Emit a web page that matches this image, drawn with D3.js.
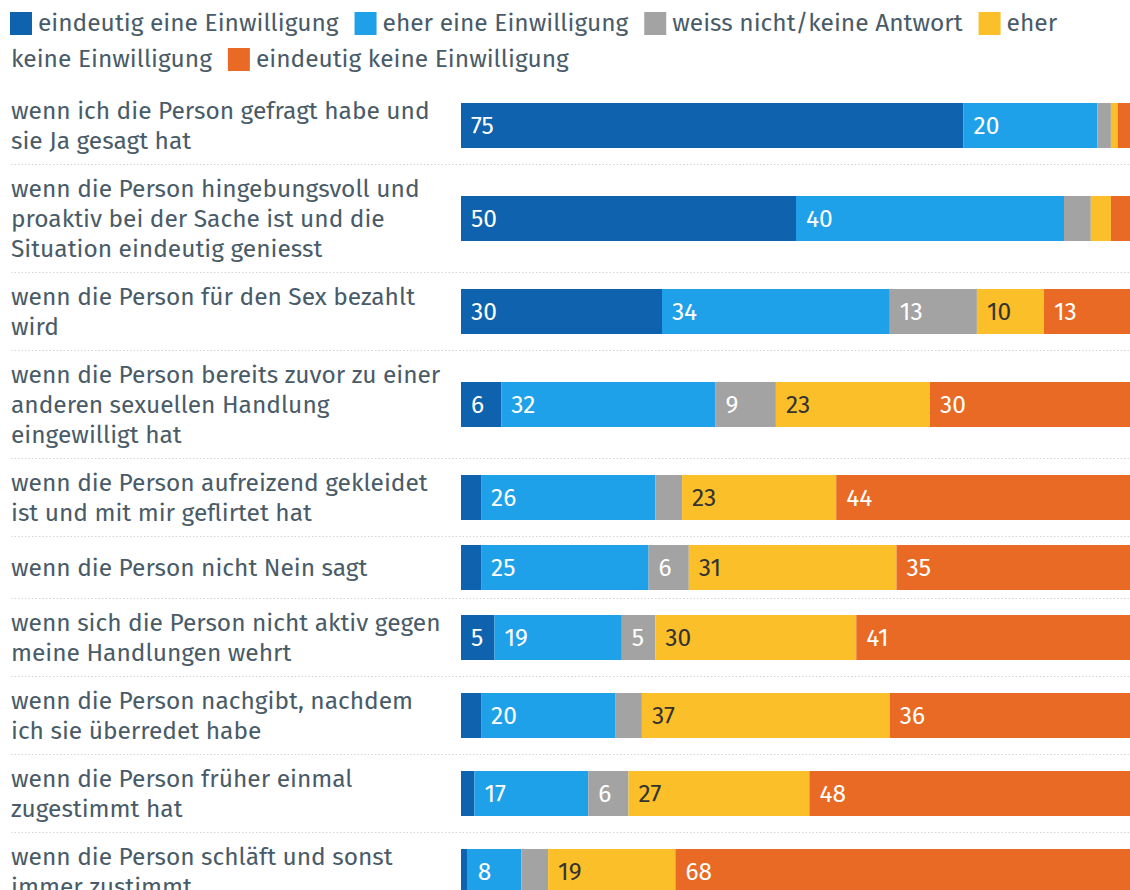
<!DOCTYPE html>
<html>
<head>
<meta charset="utf-8">
<script src="https://cdn.jsdelivr.net/npm/d3@7"></script>
<style>
  body { margin: 0; background: #fff; }
  svg { display: block; font-family: "Fira Sans", "Noto Sans", sans-serif; }
</style>
</head>
<body>
<div id="chart"></div>
<script>
const WIDTH = 1130
const HEIGHT = 890

const FONT_SIZE = 24.5
const TEXT_COLOR = '#4a5b68'
const LINE_HEIGHT = 30
const BAR_HEIGHT = 45
const ROW_MIN = 44
const ROW_PAD = 18

// Rows, with the line breaks as they appear in the reference
const categories = [
    'wenn ich die Person gefragt habe und\nsie Ja gesagt hat',
    'wenn die Person hingebungsvoll und\nproaktiv bei der Sache ist und die\nSituation eindeutig geniesst',
    'wenn die Person für den Sex bezahlt\nwird',
    'wenn die Person bereits zuvor zu einer\nanderen sexuellen Handlung\neingewilligt hat',
    'wenn die Person aufreizend gekleidet\nist und mit mir geflirtet hat',
    'wenn die Person nicht Nein sagt',
    'wenn sich die Person nicht aktiv gegen\nmeine Handlungen wehrt',
    'wenn die Person nachgibt, nachdem\nich sie überredet habe',
    'wenn die Person früher einmal\nzugestimmt hat',
    'wenn die Person schläft und sonst\nimmer zustimmt'
]

const seriesNames = [
    'eindeutig eine Einwilligung',
    'eher eine Einwilligung',
    'weiss nicht/keine Antwort',
    'eher keine Einwilligung',
    'eindeutig keine Einwilligung'
]
const seriesColors = ['#0e62ae', '#1fa1e9', '#a3a3a3', '#fbbf29', '#e96a24']
const labelColors = ['#fff', '#fff', '#fff', '#333', '#fff']

// Percent values per answer, one entry per row
const eindeutigEine = [75, 50, 30, 6, 3, 3, 5, 3, 2, 1]
const eherEine = [20, 40, 34, 32, 26, 25, 19, 20, 17, 8]
const weissNicht = [2, 4, 13, 9, 4, 6, 5, 4, 6, 4]
const eherKeine = [1, 3, 10, 23, 23, 31, 30, 37, 27, 19]
const eindeutigKeine = [2, 3, 13, 30, 44, 35, 41, 36, 48, 68]

const seriesValues = [eindeutigEine, eherEine, weissNicht, eherKeine, eindeutigKeine]

// Only segments of at least this size get a value label
const MIN_LABEL_VALUE = 5

const rows = categories.map((c, i) => {
    const row = { label: c, lines: c.split('\n') }
    seriesNames.forEach((s, j) => { row[s] = seriesValues[j][i] })
    return row
})

const svg = d3.select('#chart')
    .append('svg')
    .attr('width', WIDTH)
    .attr('height', HEIGHT)

// Legend: swatches + words flowing like inline text
const legend = svg.append('g').attr('class', 'legend')
const LEGEND_LEFT = 11
const LEGEND_MAX_X = 1122
const LEGEND_LINE = 36
const measure = svg.append('text').attr('font-size', FONT_SIZE).attr('visibility', 'hidden')
const textWidth = t => { measure.text(t); return measure.node().getComputedTextLength() }
const spaceWidth = textWidth('a a') - textWidth('aa')

let cx = 10
let line = 0
seriesNames.forEach((name, i) => {
    if (i > 0) cx += 16
    legend.append('rect')
        .attr('x', cx)
        .attr('y', 12 + line * LEGEND_LINE)
        .attr('width', 22)
        .attr('height', 23)
        .attr('fill', seriesColors[i])
    cx += 28
    name.split(' ').forEach((word, k) => {
        const w = textWidth(word)
        if (k > 0) {
            if (cx + spaceWidth + w > LEGEND_MAX_X) {
                line += 1
                cx = LEGEND_LEFT
            } else {
                cx += spaceWidth
            }
        }
        legend.append('text')
            .attr('x', cx)
            .attr('y', 31 + line * LEGEND_LINE)
            .attr('font-size', FONT_SIZE)
            .attr('fill', TEXT_COLOR)
            .text(word)
        cx += w
    })
})
measure.remove()

// Vertical layout: each row is as tall as its label, plus padding
let rowTop = 86.5
rows.forEach(r => {
    r.height = Math.max(r.lines.length * LINE_HEIGHT, ROW_MIN) + ROW_PAD
    r.top = rowTop
    r.center = rowTop + r.height / 2
    rowTop += r.height
})

const x = d3.scaleLinear().domain([0, 100]).range([461, 1131])
const stack = d3.stack().keys(seriesNames)(rows)

// Dotted separators between rows
svg.append('g')
    .selectAll('line')
    .data(rows.slice(1))
    .join('line')
    .attr('x1', 11)
    .attr('x2', WIDTH)
    .attr('y1', d => d.top)
    .attr('y2', d => d.top)
    .attr('stroke', '#d4d4d4')
    .attr('stroke-dasharray', '1.5,2')

// Row labels
svg.append('g')
    .selectAll('text')
    .data(rows)
    .join('text')
    .attr('font-size', FONT_SIZE)
    .attr('fill', TEXT_COLOR)
    .each(function (d) {
        const n = d.lines.length
        d3.select(this).selectAll('tspan')
            .data(d.lines)
            .join('tspan')
            .attr('x', 11)
            .attr('y', (l, k) => d.center + (k - (n - 1) / 2) * LINE_HEIGHT)
            .attr('dy', '0.35em')
            .text(l => l)
    })

// Stacked bars
const layers = svg.append('g')
    .selectAll('g')
    .data(stack)
    .join('g')
    .attr('fill', (d, i) => seriesColors[i])

layers.selectAll('rect')
    .data(d => d)
    .join('rect')
    .attr('x', d => x(d[0]))
    .attr('width', d => x(d[1]) - x(d[0]))
    .attr('y', d => d.data.center - BAR_HEIGHT / 2)
    .attr('height', BAR_HEIGHT)

// Value labels
layers.selectAll('text')
    .data(d => d.map(v => Object.assign(v, { idx: d.index })))
    .join('text')
    .filter(d => d[1] - d[0] >= MIN_LABEL_VALUE)
    .attr('x', d => x(d[0]) + 10)
    .attr('y', d => d.data.center)
    .attr('dy', '0.35em')
    .attr('font-size', FONT_SIZE)
    .attr('fill', d => labelColors[d.idx])
    .text(d => d[1] - d[0])
</script>
</body>
</html>
